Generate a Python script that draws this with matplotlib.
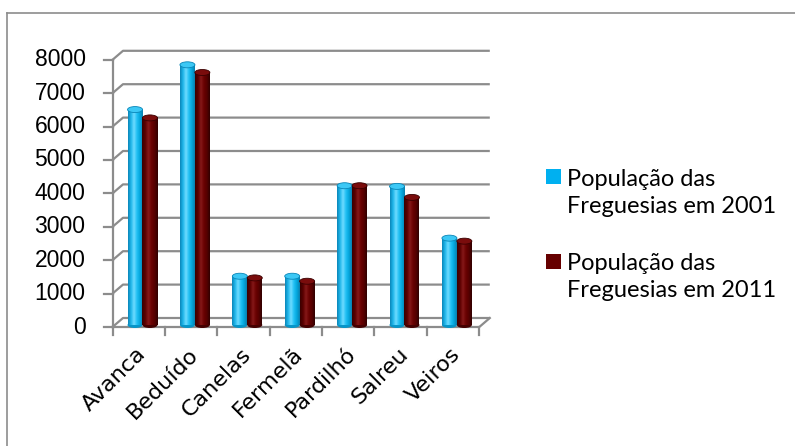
import numpy as np
import matplotlib
matplotlib.use("Agg")
import matplotlib.pyplot as plt
from matplotlib.patches import Ellipse, Rectangle
from matplotlib.lines import Line2D
from matplotlib.colors import to_rgb

# --- data ------------------------------------------------------------------
freguesias = ["Avanca", "Beduído", "Canelas", "Fermelã", "Pardilhó", "Salreu", "Veiros"]
pop_2001 = [6450, 7790, 1460, 1460, 4170, 4150, 2600]
pop_2011 = [6200, 7560, 1410, 1310, 4170, 3820, 2510]
y_ticks = [0, 1000, 2000, 3000, 4000, 5000, 6000, 7000, 8000]
series_labels = ["População das\nFreguesias em 2001",
                 "População das\nFreguesias em 2011"]

# --- geometry (pixels of the 795x446 canvas) -------------------------------
W, H = 795, 446
X0, PX_CAT = 112.5, 52.4      # front plane: x origin, pixels per category
Y0, PX_VAL = 327.0, 0.0334    # front plane: y origin, pixels per unit
DX = 10.5 / PX_CAT            # depth offset of the back wall
DY = 9.0 / PX_VAL
BASE = 60.0                   # bars stand slightly behind the front edge
BW = 15.0 / PX_CAT            # bar width
EH = 6.0 / PX_VAL             # height of the top ellipse
GRID = "#8c8c8c"

C_BLUE = ["#0a86b8", "#1fb6ea", "#6fdcff", "#22c0f4", "#04a6dc", "#0a7fae"]
C_RED = ["#3a0000", "#5a0000", "#861818", "#6a0202", "#560000", "#300000"]
TOP_BLUE, TOP_RED = "#3cc8f5", "#7a0c0c"


def gradient(colors, n=64):
    cs = np.array([to_rgb(c) for c in colors])
    t = np.linspace(0, 1, len(cs))
    s = np.linspace(0, 1, n)
    return np.stack([np.interp(s, t, cs[:, k]) for k in range(3)], axis=1)


fig = plt.figure(figsize=(W / 100, H / 100), dpi=100)
ax = fig.add_axes([0, 0, 1, 1])
ax.axis("off")
n = len(freguesias)

# walls / gridlines
for v in y_ticks:
    ax.plot([0, DX, n + DX], [v, v + DY, v + DY], color=GRID, lw=1.6,
            solid_capstyle="butt", zorder=1)
    ax.plot([-9 / PX_CAT, 0], [v, v], color=GRID, lw=1.6, zorder=1)
    ax.text(-27 / PX_CAT, v, str(v), ha="right", va="center", fontsize=16.5,
            family="Liberation Sans", color="black")
ax.plot([0, 0], [0, y_ticks[-1]], color=GRID, lw=1.6, zorder=1)
ax.plot([0, n, n + DX], [0, 0, DY], color=GRID, lw=1.6, zorder=1)
for i in range(n + 1):
    ax.plot([i, i], [0, -8 / PX_VAL], color=GRID, lw=1.6, zorder=1)

# cylinders
g_blue, g_red = gradient(C_BLUE), gradient(C_RED)
for i in range(n):
    for val, off, grad, top_c in ((pop_2001[i], 0.43, g_blue, TOP_BLUE),
                                  (pop_2011[i], 0.715, g_red, TOP_RED)):
        xc = i + off
        x0, x1 = xc - BW / 2, xc + BW / 2
        ax.add_patch(Ellipse((xc, BASE), BW, EH, facecolor=grad[-8],
                             edgecolor="none", zorder=3))
        ax.imshow(grad[np.newaxis, :, :], extent=(x0, x1, BASE, BASE + val),
                  aspect="auto", interpolation="bilinear", zorder=3)
        ax.add_patch(Ellipse((xc, BASE + val), BW, EH, facecolor=top_c,
                             edgecolor=grad[0], lw=0.6, zorder=4))

# category labels
for i, name in enumerate(freguesias):
    ax.text(i + 0.5 + 4 / PX_CAT, -24 / PX_VAL, name, rotation=45,
            rotation_mode="anchor", ha="right", va="center", fontsize=16,
            family="DejaVu Sans", color="black")

ax.set_xlim(-X0 / PX_CAT, (W - X0) / PX_CAT)
ax.set_ylim((Y0 - H) / PX_VAL, Y0 / PX_VAL)

# legend, drawn by hand in pixel positions
for (label, sq_y, txt_y, c) in ((series_labels[0], 177, 193, "#00b0f0"),
                                (series_labels[1], 261, 277, "#660000")):
    fig.add_artist(Rectangle((546 / W, 1 - (sq_y + 7.5) / H), 15 / W, 15 / H,
                             transform=fig.transFigure, facecolor=c,
                             edgecolor="none"))
    fig.text(567 / W, 1 - txt_y / H, label, ha="left", va="center",
             fontsize=17, family="Lato", linespacing=1.35, color="black")

# chart frame (only top and left visible)
fig.add_artist(Line2D([7 / W, 1], [1 - 13 / H, 1 - 13 / H], color=GRID, lw=1.2))
fig.add_artist(Line2D([7 / W, 7 / W], [0, 1 - 13 / H], color=GRID, lw=1.2))

fig.savefig("out.png", dpi=100)
